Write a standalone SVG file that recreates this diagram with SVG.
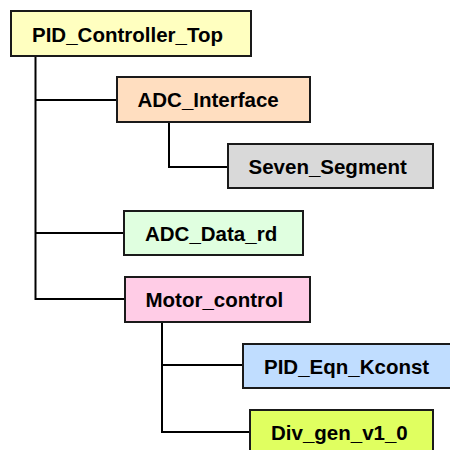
<svg xmlns="http://www.w3.org/2000/svg" width="450" height="450" viewBox="0 0 450 450">
<style>
.box{stroke:#1a1a1a;stroke-width:2}
.lbl{font-family:"Liberation Sans",Arial,sans-serif;font-weight:bold;font-size:20.5px;fill:#000}
.conn{fill:none;stroke:#000;stroke-width:2}
</style>
<rect width="450" height="450" fill="#fff"/>
<g id="connectors">
<path class="conn" d="M35.5 56V299H125M35.5 100H117M35.5 233H124"/>
<path class="conn" d="M169 122V167H228"/>
<path class="conn" d="M162 322V432H250M162 365H243"/>
</g>
<g id="PID_Controller_Top"><rect class="box" x="11" y="11" width="240" height="45" fill="#ffffc0"/><text class="lbl" x="32" y="42">PID_Controller_Top</text></g>
<g id="ADC_Interface"><rect class="box" x="117" y="77" width="193" height="45" fill="#ffdec0"/><text class="lbl" x="137.5" y="107">ADC_Interface</text></g>
<g id="Seven_Segment"><rect class="box" x="228" y="144" width="205" height="44" fill="#d9d9d9"/><text class="lbl" x="248.5" y="174">Seven_Segment</text></g>
<g id="ADC_Data_rd"><rect class="box" x="124" y="211" width="179" height="44" fill="#e0ffe0"/><text class="lbl" x="145" y="241">ADC_Data_rd</text></g>
<g id="Motor_control"><rect class="box" x="125" y="277" width="185" height="45" fill="#ffcce6"/><text class="lbl" x="145.5" y="307">Motor_control</text></g>
<g id="PID_Eqn_Kconst"><rect class="box" x="243" y="344" width="220" height="44" fill="#c0ddff"/><text class="lbl" x="264" y="374">PID_Eqn_Kconst</text></g>
<g id="Div_gen_v1_0"><rect class="box" x="250" y="410" width="183" height="60" fill="#e0ff60"/><text class="lbl" x="271" y="440">Div_gen_v1_0</text></g>
</svg>
